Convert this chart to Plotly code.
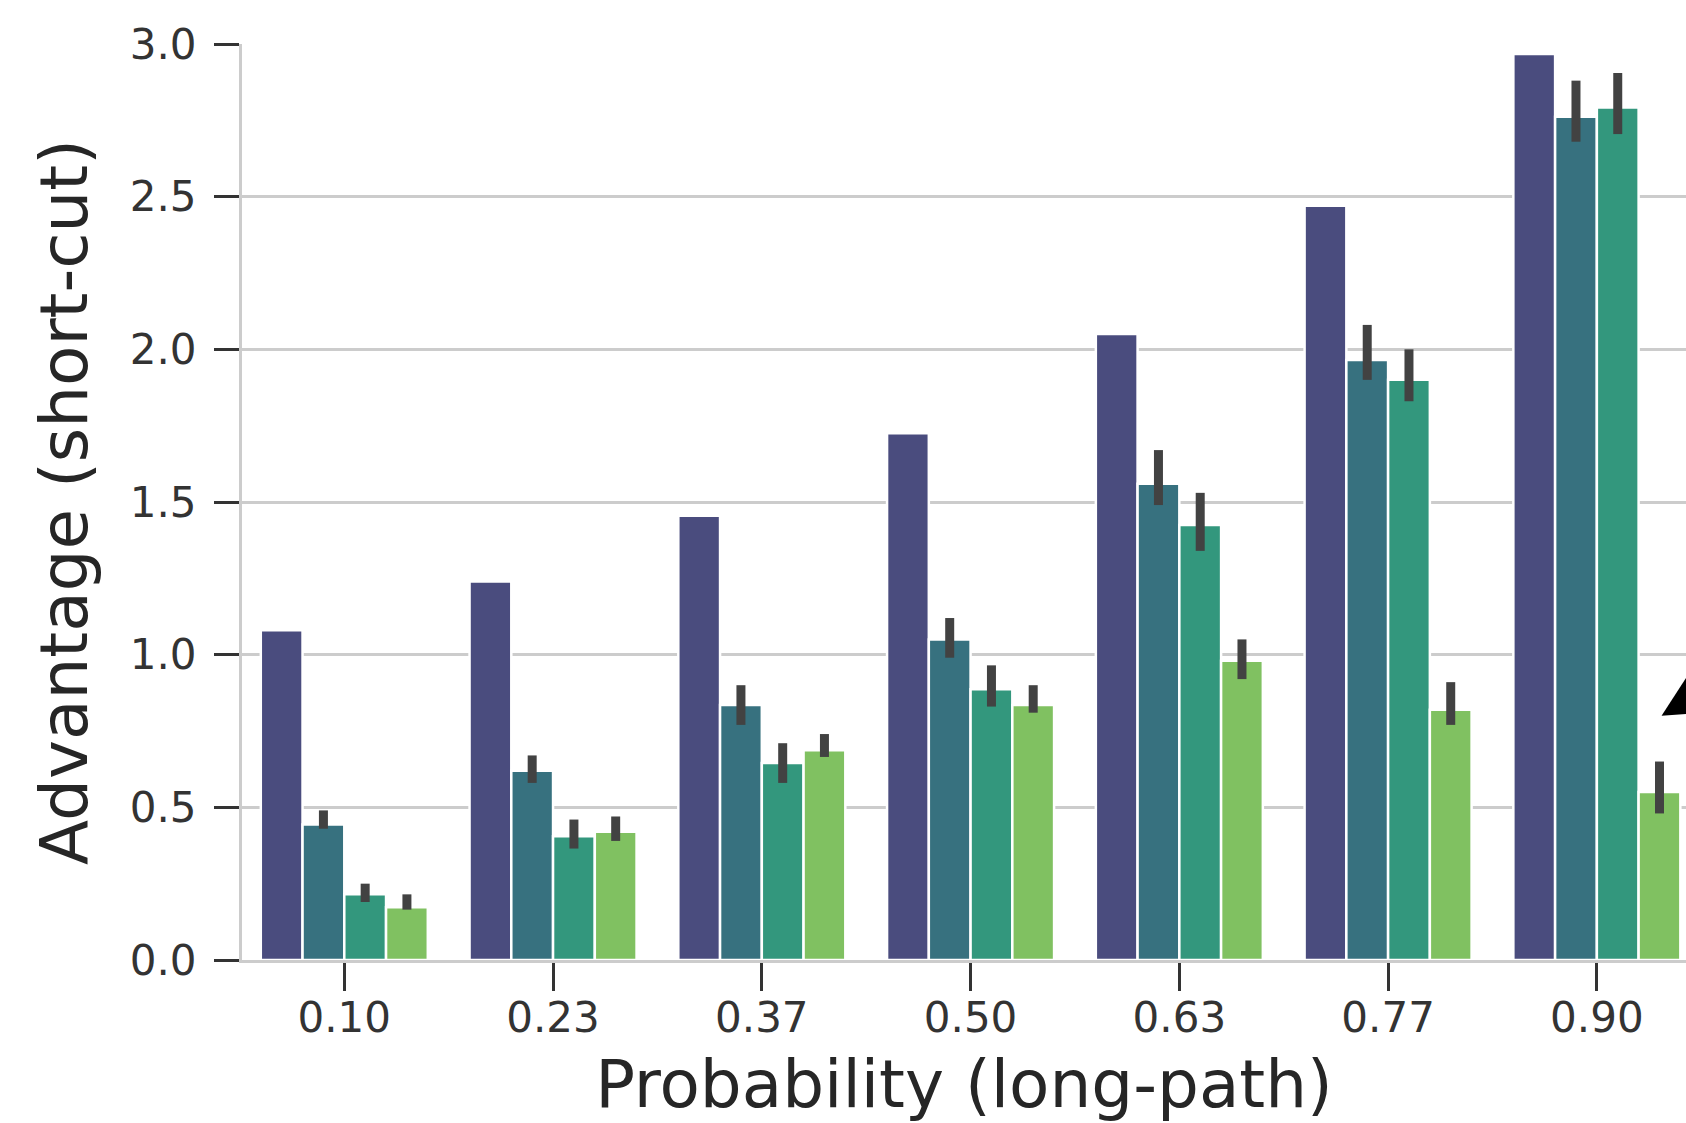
import plotly.graph_objects as go

categories = ["0.10", "0.23", "0.37", "0.50", "0.63", "0.77", "0.90"]

series_names = ["Series A", "Series B", "Series C", "Series D"]
colors = ["#4A4C7E", "#37717F", "#33977D", "#80C161"]

vals_a = [1.08, 1.24, 1.455, 1.725, 2.05, 2.47, 2.967]
vals_b = [0.444, 0.62, 0.835, 1.05, 1.56, 1.965, 2.762]
vals_c = [0.215, 0.405, 0.645, 0.887, 1.425, 1.90, 2.792]
vals_d = [0.173, 0.42, 0.687, 0.835, 0.98, 0.82, 0.55]

hi_b = [0.49, 0.67, 0.90, 1.12, 1.67, 2.08, 2.88]
lo_b = [0.43, 0.58, 0.77, 0.99, 1.49, 1.90, 2.68]
hi_c = [0.25, 0.46, 0.71, 0.965, 1.53, 2.00, 2.905]
lo_c = [0.19, 0.365, 0.58, 0.83, 1.34, 1.83, 2.705]
hi_d = [0.215, 0.47, 0.74, 0.90, 1.05, 0.91, 0.65]
lo_d = [0.165, 0.39, 0.665, 0.81, 0.92, 0.77, 0.48]

values = [vals_a, vals_b, vals_c, vals_d]
highs = [None, hi_b, hi_c, hi_d]
lows = [None, lo_b, lo_c, lo_d]

fig = go.Figure()
for name, col, v, hi, lo in zip(series_names, colors, values, highs, lows):
    if hi is not None:
        err = dict(type="data", symmetric=False,
                   array=[h - x for h, x in zip(hi, v)],
                   arrayminus=[x - l for x, l in zip(v, lo)],
                   color="#424242", thickness=9, width=0)
    else:
        err = dict(visible=False)
    fig.add_trace(go.Bar(x=categories, y=v, name=name,
                         marker=dict(color=col, line=dict(color="white", width=2.5)),
                         error_y=err))

font_family = "DejaVu Sans"

fig.update_layout(
    width=1686, height=1123,
    margin=dict(l=242, r=0, t=44, b=163),
    paper_bgcolor="white", plot_bgcolor="white",
    barmode="group", bargap=0.2, bargroupgap=0.0,
    showlegend=False,
    font=dict(family=font_family, color="#333333"),
    xaxis=dict(
        type="category",
        range=[-0.49, 6.427],
        showgrid=False, zeroline=False,
        showline=True, linecolor="#cccccc", linewidth=3,
        ticks="outside", ticklen=28, tickwidth=3, tickcolor="#333333",
        ticklabelstandoff=-9,
        tickfont=dict(size=42, color="#333333", family=font_family),
        title=dict(text="Probability (long-path)", font=dict(size=66, color="#262626", family=font_family), standoff=22),
    ),
    yaxis=dict(
        range=[0, 3.0],
        tickvals=[0, 0.5, 1.0, 1.5, 2.0, 2.5, 3.0],
        ticktext=["0.0", "0.5", "1.0", "1.5", "2.0", "2.5", "3.0"],
        showgrid=True, gridcolor="#cccccc", gridwidth=3,
        zeroline=False,
        showline=True, linecolor="#cccccc", linewidth=3,
        ticks="outside", ticklen=25, tickwidth=3, tickcolor="#333333",
        ticklabelstandoff=9,
        tickfont=dict(size=42, color="#333333", family=font_family),
        title=dict(text="Advantage (short-cut)", font=dict(size=66, color="#262626", family=font_family), standoff=21),
    ),
)

fig.add_annotation(
    x=6.31, y=0.80, xref="x", yref="y",
    text="", showarrow=True,
    arrowhead=2, arrowsize=4, arrowwidth=2.5, arrowcolor="black",
    ax=22, ay=-13,
)

fig.write_html("out.html")
